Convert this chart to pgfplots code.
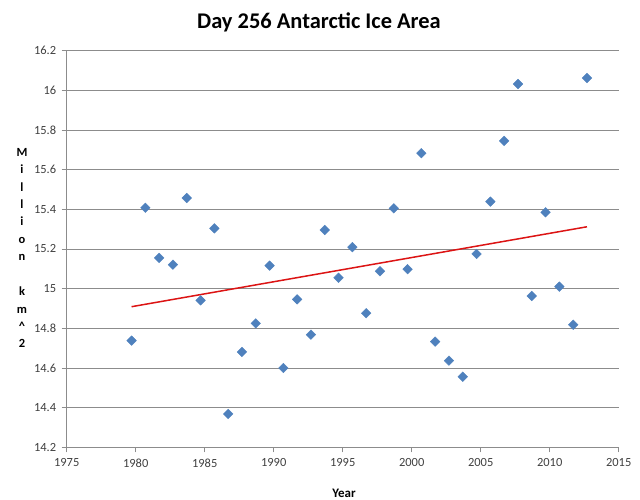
\documentclass[border=0pt]{standalone}
\usepackage{pgfplots}
\pgfplotsset{compat=1.18}
\usepackage{fontspec}
\setmainfont{Carlito}
\definecolor{mk}{HTML}{4F81BD}
\definecolor{gridc}{HTML}{8C8C8C}
\definecolor{tr}{HTML}{DC1414}
\definecolor{lab}{HTML}{404040}
\begin{document}
\begin{tikzpicture}[x=1bp,y=1bp]
\path[use as bounding box] (0,0) rectangle (640,500);
\begin{axis}[at={(66.7bp,52.7bp)}, anchor=south west, scale only axis,
  width=552bp, height=396.6bp,
  xmin=1975, xmax=2015, ymin=14.2, ymax=16.2,
  xtick={1975,1980,1985,1990,1995,2000,2005,2010,2015},
  ytick={14.2,14.4,14.6,14.8,15,15.2,15.4,15.6,15.8,16,16.2},
  axis lines*=left,
  ymajorgrids, grid style={gridc, line width=0.75bp},
  axis line style={gridc, line width=0.75bp},
  tick style={gridc, line width=0.75bp},
  tick align=outside, major tick length=5bp,
  ticklabel style={font=\fontsize{12.5}{12.5}\selectfont, text=lab},
  xticklabel style={yshift=-3bp},
  yticklabel style={xshift=-2bp},
  /pgf/number format/assume math mode=true,
  /pgf/number format/1000 sep={},
  clip=false,
]
\addplot[only marks, mark=square*, mark size=3.4bp, mark options={draw=mk, fill=mk, rotate=45}] coordinates {
(1979.7,14.738) (1980.7,15.408) (1981.7,15.155) (1982.7,15.121) (1983.7,15.457)
(1984.7,14.941) (1985.7,15.304) (1986.7,14.368) (1987.7,14.681) (1988.7,14.825)
(1989.7,15.116) (1990.7,14.600) (1991.7,14.946) (1992.7,14.768) (1993.7,15.296)
(1994.7,15.055) (1995.7,15.209) (1996.7,14.876) (1997.7,15.088) (1998.7,15.405)
(1999.7,15.098) (2000.7,15.683) (2001.7,14.733) (2002.7,14.637) (2003.7,14.556)
(2004.7,15.175) (2005.7,15.439) (2006.7,15.745) (2007.7,16.032) (2008.7,14.963)
(2009.7,15.385) (2010.7,15.010) (2011.7,14.818) (2012.7,16.062)
};
\addplot[tr, line width=1.5bp] coordinates {(1979.7,14.909) (2012.7,15.312)};
\end{axis}
\node[font=\bfseries\fontsize{22.5}{22.5}\selectfont] at (319,478) {Day 256 Antarctic Ice Area};
\node[font=\bfseries\fontsize{12.5}{17.5}\selectfont, align=center] at (22,252)
  {M\\i\\l\\l\\i\\o\\n\\~\\k\\m\\\textasciicircum\\2};
\node[font=\bfseries\fontsize{13}{13}\selectfont] at (344,7) {Year};
\end{tikzpicture}
\end{document}
